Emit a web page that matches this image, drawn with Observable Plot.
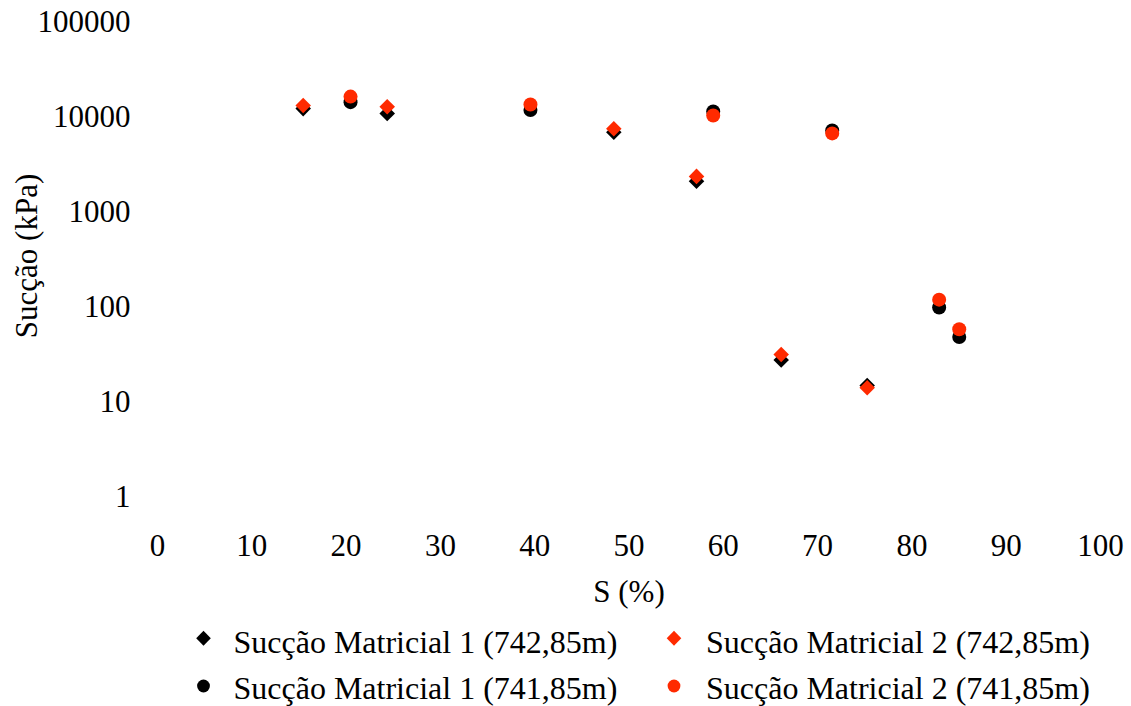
<!DOCTYPE html>
<html>
<head>
<meta charset="utf-8">
<script src="https://cdn.jsdelivr.net/npm/d3@7"></script>
<script src="https://cdn.jsdelivr.net/npm/@observablehq/plot@0.6"></script>
<style>
  body { margin: 0; background: white; }
  svg { display: block; }
  #legend text { font-family: "Liberation Serif", "Times New Roman", serif; font-size: 32px; fill: black; }
</style>
</head>
<body>
<div id="chart"></div>
<div id="legend"></div>
<script>
const xTicks = [0, 10, 20, 30, 40, 50, 60, 70, 80, 90, 100];
const yTicks = [1, 10, 100, 1000, 10000, 100000];

const seriesNames = [
  "Sucção Matricial 1 (742,85m)",
  "Sucção Matricial 2 (742,85m)",
  "Sucção Matricial 1 (741,85m)",
  "Sucção Matricial 2 (741,85m)"
];
const seriesColors = ["#000000", "#ff2a00", "#000000", "#ff2a00"];
const seriesSymbols = ["diamond2", "diamond2", "circle", "circle"];

// 742,85 m
const s742 = [15.45, 24.36, 48.39, 57.16, 66.14, 75.26];
const m1_742 = [12400, 11000, 7000, 2130, 28, 15.1];
const m2_742 = [13400, 13000, 7600, 2400, 32, 14.3];
// 741,85 m
const s741 = [20.47, 39.55, 58.93, 71.55, 82.89, 85.02];
const m1_741 = [14500, 12000, 11600, 7300, 100, 49];
const m2_741 = [16600, 13700, 10500, 6800, 121, 59];

const table = (xs, ys) => xs.map((x, i) => ({x, y: ys[i]}));
const series = [
  table(s742, m1_742),
  table(s742, m2_742),
  table(s741, m1_741),
  table(s741, m2_741)
];

const chart = Plot.plot({
  width: 1131,
  height: 610,
  marginLeft: 157,
  marginRight: 31,
  marginTop: 22,
  marginBottom: 113,
  style: {fontFamily: "Liberation Serif, Times New Roman, serif", fontSize: "31px", background: "white", color: "black", display: "block"},
  x: {domain: [0, 100]},
  y: {type: "log", domain: [1, 100000]},
  marks: [
    Plot.axisX({ticks: xTicks, tickSize: 0, tickPadding: 36, label: null, tickFormat: d => String(d)}),
    Plot.axisY({ticks: yTicks, tickSize: 0, tickPadding: 27, label: null, tickFormat: d => String(d)}),
    ...series.map((data, i) => Plot.dot(data, {
      x: "x", y: "y", r: 7, symbol: seriesSymbols[i], fill: seriesColors[i], stroke: "none"
    })),
    Plot.text(["S (%)"], {text: d => d, frameAnchor: "bottom", lineAnchor: "middle", textAnchor: "middle", dy: 95}),
    Plot.text(["Sucção (kPa)"], {text: d => d, frameAnchor: "left", textAnchor: "middle", lineAnchor: "middle", dx: -130, dy: -4, rotate: -90})
  ]
});
document.getElementById("chart").appendChild(chart);

// legend (SVG with real text)
const ns = "http://www.w3.org/2000/svg";
const lg = document.createElementNS(ns, "svg");
lg.setAttribute("width", 1131);
lg.setAttribute("height", 96);
const items = [
  {mx: 203.5, my: 28.3, tx: 233.5, ty: 43},
  {mx: 674, my: 28.3, tx: 706, ty: 43},
  {mx: 203.5, my: 76, tx: 233.5, ty: 88.5},
  {mx: 674, my: 76, tx: 706, ty: 88.5}
];
seriesNames.forEach((name, i) => {
  const it = items[i];
  let shape;
  if (seriesSymbols[i] === "circle") {
    shape = document.createElementNS(ns, "circle");
    shape.setAttribute("cx", it.mx);
    shape.setAttribute("cy", it.my);
    shape.setAttribute("r", 6.4);
  } else {
    shape = document.createElementNS(ns, "path");
    const {mx, my} = it;
    shape.setAttribute("d", `M${mx},${my - 7.5}L${mx + 7.3},${my}L${mx},${my + 7.5}L${mx - 7.3},${my}Z`);
  }
  shape.setAttribute("fill", seriesColors[i]);
  lg.appendChild(shape);
  const t = document.createElementNS(ns, "text");
  t.setAttribute("x", it.tx);
  t.setAttribute("y", it.ty);
  t.textContent = name;
  lg.appendChild(t);
});
document.getElementById("legend").appendChild(lg);
</script>
</body>
</html>
